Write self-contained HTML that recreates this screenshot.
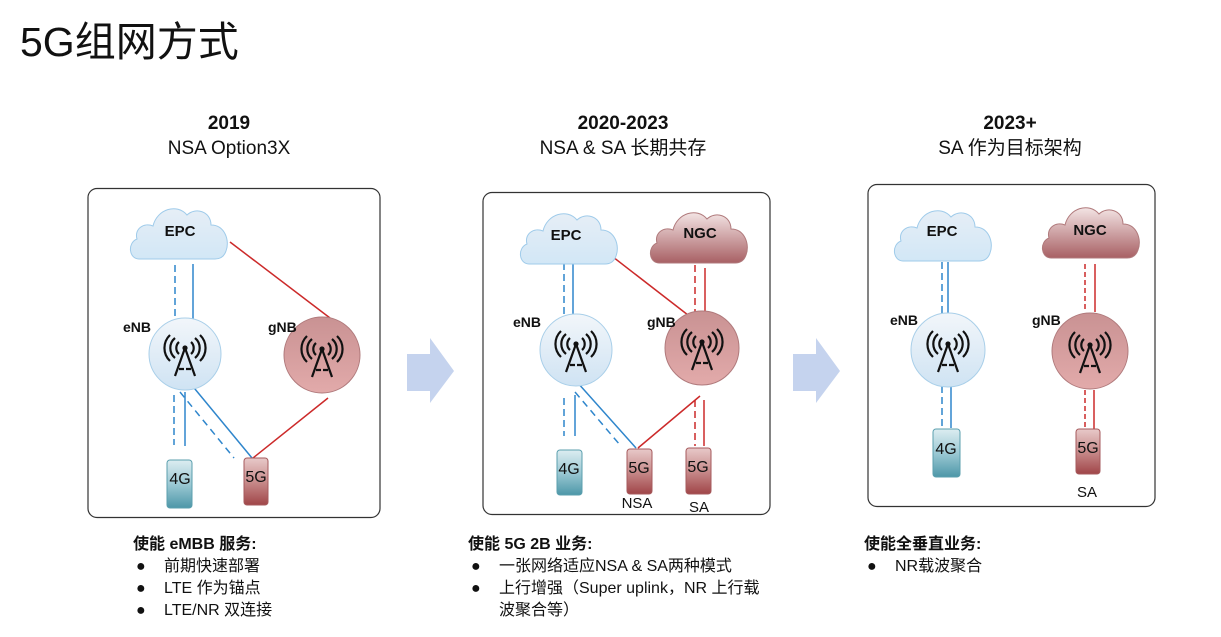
<!DOCTYPE html>
<html><head><meta charset="utf-8">
<style>
html,body{margin:0;padding:0;background:#fff;}
body{width:1221px;height:637px;overflow:hidden;position:relative;font-family:"Liberation Sans","Noto Sans CJK SC",sans-serif;}
svg{position:absolute;left:0;top:0;}
text{font-family:"Liberation Sans","Noto Sans CJK SC",sans-serif;}
</style></head>
<body>
<svg width="1221" height="637" viewBox="0 0 1221 637" xmlns="http://www.w3.org/2000/svg">
<defs>
<linearGradient id="gb" x1="0" y1="0" x2="0" y2="1"><stop offset="0" stop-color="#f2f6fa"/><stop offset="1" stop-color="#cfe3f3"/></linearGradient>
<linearGradient id="gr" x1="0" y1="0" x2="0" y2="1"><stop offset="0" stop-color="#f3e4e4"/><stop offset="1" stop-color="#a86064"/></linearGradient>
<linearGradient id="cb" x1="0" y1="0" x2="0" y2="1"><stop offset="0" stop-color="#e6eef6"/><stop offset="1" stop-color="#d2e7f6"/></linearGradient>
<linearGradient id="cr" x1="0" y1="0" x2="0" y2="1"><stop offset="0" stop-color="#c99293"/><stop offset="1" stop-color="#e2aaaa"/></linearGradient>
<linearGradient id="p4" x1="0" y1="0" x2="0" y2="1"><stop offset="0" stop-color="#dcedf1"/><stop offset="0.5" stop-color="#9cc9d4"/><stop offset="1" stop-color="#4d97a8"/></linearGradient>
<linearGradient id="p5" x1="0" y1="0" x2="0" y2="1"><stop offset="0" stop-color="#e8c9c9"/><stop offset="0.5" stop-color="#c88c8c"/><stop offset="1" stop-color="#a04548"/></linearGradient>
<path id="cloud" d="M10,58 C0,58 -2,42 8,38 C5,28 15,21 24,25 C28,8 48,2 58,14 C66,6 82,10 82,24 C96,24 101,40 97,50 C95,56 91,58 86,58 Z"/>
<g id="tower" fill="none" stroke="#111" stroke-width="2.2">
<circle cx="0" cy="-6" r="2.6" fill="#111" stroke="none"/>
<path d="M0,-6 L-10,22 M0,-6 L10,22 M-6,15 L-1,15 M6,15 L1,15"/>
<path d="M-6,-12 A8,8 0 0 0 -6,0 M6,-12 A8,8 0 0 1 6,0"/>
<path d="M-10,-16 A13,13 0 0 0 -10,4 M10,-16 A13,13 0 0 1 10,4"/>
<path d="M-15,-19 A18,18 0 0 0 -15,7 M15,-19 A18,18 0 0 1 15,7"/>
</g>
</defs>

<text x="20" y="56" font-size="41" fill="#111">5G组网方式</text>

<g font-size="19" fill="#111" text-anchor="middle">
<text x="229" y="129" font-weight="bold">2019</text>
<text x="229" y="154">NSA Option3X</text>
<text x="623" y="129" font-weight="bold">2020-2023</text>
<text x="623" y="154">NSA &amp; SA 长期共存</text>
<text x="1010" y="129" font-weight="bold">2023+</text>
<text x="1010" y="154">SA 作为目标架构</text>
</g>

<g fill="none" stroke="#333" stroke-width="1.2">
<rect x="88" y="188.5" width="292" height="329" rx="9"/>
<rect x="483" y="192.5" width="287" height="322" rx="9"/>
<rect x="868" y="184.5" width="287" height="322" rx="9"/>
</g>

<path d="M407,354 H430 V338 L454,371 L430,403 V391 H407 Z" fill="#c5d3ee"/>
<path d="M793,354 H816 V338 L840,371 L816,403 V391 H793 Z" fill="#c5d3ee"/>

<!-- Panel 1 -->
<g stroke-width="1.5" fill="none">
<path d="M175,265 V330" stroke="#2f86cc" stroke-dasharray="7,4"/>
<path d="M193,264 V331" stroke="#2f86cc"/>
<path d="M230,242 L330,318" stroke="#cc2a2a"/>
<path d="M174,395 V445" stroke="#2f86cc" stroke-dasharray="7,4"/>
<path d="M185,392 V446" stroke="#2f86cc"/>
<path d="M190,383 L252,458" stroke="#2f86cc"/>
<path d="M180,392 L234,458" stroke="#2f86cc" stroke-dasharray="7,5"/>
<path d="M328,398 L253,458" stroke="#cc2a2a"/>
</g>
<use href="#cloud" transform="translate(129,201)" fill="url(#cb)" stroke="#9fcbea" stroke-width="1"/>
<text x="180" y="236" font-size="15" font-weight="bold" text-anchor="middle" fill="#111">EPC</text>
<circle cx="185" cy="354" r="36" fill="url(#gb)" stroke="#a9cfe9" stroke-width="1"/>
<use href="#tower" transform="translate(185,354)"/>
<circle cx="322" cy="355" r="38" fill="url(#cr)" stroke="#b07a7c" stroke-width="1"/>
<use href="#tower" transform="translate(322,355)"/>
<text x="123" y="332" font-size="14" font-weight="bold" fill="#111">eNB</text>
<text x="268" y="332" font-size="14" font-weight="bold" fill="#111">gNB</text>
<rect x="167" y="460" width="25" height="48" rx="3" fill="url(#p4)" stroke="#5b9fae"/>
<rect x="244" y="458" width="24" height="47" rx="3" fill="url(#p5)" stroke="#a65a5c"/>
<text x="180" y="484" font-size="16" text-anchor="middle" fill="#111">4G</text>
<text x="256" y="482" font-size="16" text-anchor="middle" fill="#111">5G</text>

<!-- Panel 2 -->
<g stroke-width="1.5" fill="none">
<path d="M564,263 V330" stroke="#2f86cc" stroke-dasharray="7,4"/>
<path d="M573,263 V320" stroke="#2f86cc"/>
<path d="M604,250 L697,322" stroke="#cc2a2a"/>
<path d="M695,265 V318" stroke="#cc2a2a" stroke-dasharray="7,4"/>
<path d="M705,268 V320" stroke="#cc2a2a"/>
<path d="M564,398 V436" stroke="#2f86cc" stroke-dasharray="7,4"/>
<path d="M575,395 V436" stroke="#2f86cc"/>
<path d="M577,382 L636,448" stroke="#2f86cc"/>
<path d="M575,392 L620,445" stroke="#2f86cc" stroke-dasharray="7,5"/>
<path d="M700,396 L638,448" stroke="#cc2a2a"/>
<path d="M695,400 V446" stroke="#cc2a2a" stroke-dasharray="7,4"/>
<path d="M704,400 V446" stroke="#cc2a2a"/>
</g>
<use href="#cloud" transform="translate(519,206)" fill="url(#cb)" stroke="#9fcbea" stroke-width="1"/>
<text x="566" y="240" font-size="15" font-weight="bold" text-anchor="middle" fill="#111">EPC</text>
<use href="#cloud" transform="translate(649,205)" fill="url(#gr)" stroke="#b07a7c" stroke-width="1"/>
<text x="700" y="238" font-size="15" font-weight="bold" text-anchor="middle" fill="#111">NGC</text>
<circle cx="576" cy="350" r="36" fill="url(#gb)" stroke="#a9cfe9" stroke-width="1"/>
<use href="#tower" transform="translate(576,350)"/>
<circle cx="702" cy="348" r="37" fill="url(#cr)" stroke="#b07a7c" stroke-width="1"/>
<use href="#tower" transform="translate(702,348)"/>
<text x="513" y="327" font-size="14" font-weight="bold" fill="#111">eNB</text>
<text x="647" y="327" font-size="14" font-weight="bold" fill="#111">gNB</text>
<rect x="557" y="450" width="25" height="45" rx="3" fill="url(#p4)" stroke="#5b9fae"/>
<rect x="627" y="449" width="25" height="45" rx="3" fill="url(#p5)" stroke="#a65a5c"/>
<rect x="686" y="448" width="25" height="46" rx="3" fill="url(#p5)" stroke="#a65a5c"/>
<text x="569" y="474" font-size="16" text-anchor="middle" fill="#111">4G</text>
<text x="639" y="473" font-size="16" text-anchor="middle" fill="#111">5G</text>
<text x="698" y="472" font-size="16" text-anchor="middle" fill="#111">5G</text>
<text x="637" y="508" font-size="15" text-anchor="middle" fill="#111">NSA</text>
<text x="699" y="512" font-size="15" text-anchor="middle" fill="#111">SA</text>

<!-- Panel 3 -->
<g stroke-width="1.5" fill="none">
<path d="M942,262 V315" stroke="#2f86cc" stroke-dasharray="7,4"/>
<path d="M948,262 V315" stroke="#2f86cc"/>
<path d="M942,386 V428" stroke="#2f86cc" stroke-dasharray="7,4"/>
<path d="M951,386 V428" stroke="#2f86cc"/>
<path d="M1085,264 V312" stroke="#cc2a2a" stroke-dasharray="5,3"/>
<path d="M1095,264 V312" stroke="#cc2a2a"/>
<path d="M1085,390 V430" stroke="#cc2a2a" stroke-dasharray="5,3"/>
<path d="M1094,390 V430" stroke="#cc2a2a"/>
</g>
<use href="#cloud" transform="translate(893,203)" fill="url(#cb)" stroke="#9fcbea" stroke-width="1"/>
<text x="942" y="236" font-size="15" font-weight="bold" text-anchor="middle" fill="#111">EPC</text>
<use href="#cloud" transform="translate(1041,200)" fill="url(#gr)" stroke="#b07a7c" stroke-width="1"/>
<text x="1090" y="235" font-size="15" font-weight="bold" text-anchor="middle" fill="#111">NGC</text>
<circle cx="948" cy="350" r="37" fill="url(#gb)" stroke="#a9cfe9" stroke-width="1"/>
<use href="#tower" transform="translate(948,350)"/>
<circle cx="1090" cy="351" r="38" fill="url(#cr)" stroke="#b07a7c" stroke-width="1"/>
<use href="#tower" transform="translate(1090,351)"/>
<text x="890" y="325" font-size="14" font-weight="bold" fill="#111">eNB</text>
<text x="1032" y="325" font-size="14" font-weight="bold" fill="#111">gNB</text>
<rect x="933" y="429" width="27" height="48" rx="3" fill="url(#p4)" stroke="#5b9fae"/>
<rect x="1076" y="429" width="24" height="45" rx="3" fill="url(#p5)" stroke="#a65a5c"/>
<text x="946" y="454" font-size="16" text-anchor="middle" fill="#111">4G</text>
<text x="1088" y="453" font-size="16" text-anchor="middle" fill="#111">5G</text>
<text x="1087" y="497" font-size="15" text-anchor="middle" fill="#111">SA</text>

<g font-size="16" fill="#111">
<text x="133" y="549" font-weight="bold">使能 eMBB 服务:</text>
<text x="136" y="571">●</text><text x="164" y="571">前期快速部署</text>
<text x="136" y="593">●</text><text x="164" y="593">LTE 作为锚点</text>
<text x="136" y="615">●</text><text x="164" y="615">LTE/NR 双连接</text>

<text x="468" y="549" font-weight="bold">使能 5G 2B 业务:</text>
<text x="471" y="571">●</text><text x="499" y="571">一张网络适应NSA &amp; SA两种模式</text>
<text x="471" y="593">●</text><text x="499" y="593">上行增强（Super uplink，NR 上行载</text>
<text x="499" y="615">波聚合等）</text>

<text x="864" y="549" font-weight="bold">使能全垂直业务:</text>
<text x="867" y="571">●</text><text x="895" y="571">NR载波聚合</text>
</g>
</svg>
</body></html>
